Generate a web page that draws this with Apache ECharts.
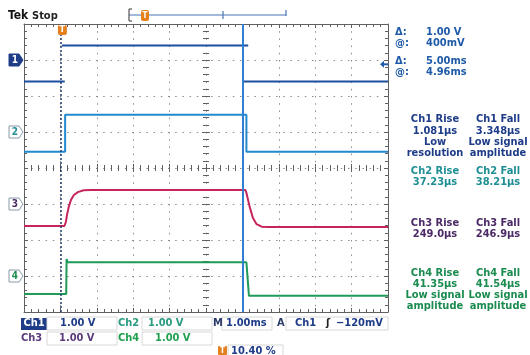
<!DOCTYPE html>
<html><head><meta charset="utf-8">
<script src="https://cdn.jsdelivr.net/npm/echarts@6/dist/echarts.min.js"></script>
<style>html,body{margin:0;padding:0;background:#fff}#c{width:530px;height:355px}</style>
</head><body><div id="c"></div>
<script>
// Acquisition settings
const msPerDiv = 1.00;
const triggerPct = 10.40;
const divisionsX = 10, divisionsY = 8;
const channelNames = ['Ch1', 'Ch2', 'Ch3', 'Ch4'];
const channelOffsets = [3, 1, -1, -3];      // marker position, divisions from centre
const voltsPerDiv = [1.00, 1.00, 1.00, 1.00];
const triggerLevel = -0.12;                 // V on Ch1
const cursorAt = 4.96, cursorDelta = 5.00;  // ms
const cursorVolts = [1.00, 0.400];          // delta, level (V)

// Waveforms as [time ms, volts]; '-' breaks the trace
const ch1Trace = [[-1.04, -0.60], [0.08, -0.60], ['-', '-'], [0, 0.40], [5.12, 0.40], ['-', '-'], [5.00, -0.60], [8.96, -0.60]];
const ch2Trace = [[-1.04, -0.55], [0.09, -0.55], [0.09, 0.48], [5.07, 0.48], [5.07, -0.55], [8.96, -0.55]];
const ch3Trace = [[-1.04, -0.61], [0.07, -0.61], [0.11, -0.50], [0.14, -0.31], [0.19, -0.08], [0.25, 0.11], [0.33, 0.25],
  [0.44, 0.33], [0.60, 0.38], [0.80, 0.39], [5.04, 0.39], [5.07, 0.31], [5.16, -0.08], [5.25, -0.39], [5.35, -0.56],
  [5.49, -0.63], [5.70, -0.64], [8.96, -0.64]];
const ch4Trace = [[-1.04, -0.50], [0.12, -0.50], [0.13, 0.47], [0.16, 0.38], [5.07, 0.38], [5.14, -0.55], [8.96, -0.55]];

// Automatic measurements
const riseTimes = ['1.081µs', '37.23µs', '249.0µs', '41.35µs'];
const fallTimes = ['3.348µs', '38.21µs', '246.9µs', '41.54µs'];
const riseNotes = [['Low', 'resolution'], [], [], ['Low signal', 'amplitude']];
const fallNotes = [['Low signal', 'amplitude'], [], [], ['Low signal', 'amplitude']];

const traceColors = ['#1d4f9e', '#2389cf', '#c8245c', '#1f9a58'];
const textColors = ['#1e3c88', '#1f8f94', '#4b2a66', '#1a8c50'];
const labelColors = ['#1e3c88', '#2a9a80', '#5b3b7b', '#22a050'];
const FONT = '"DejaVu Sans Condensed", "DejaVu Sans", sans-serif';

const G = { left: 24, top: 24, width: 364, height: 288 };
const tStart = -triggerPct / 100 * divisionsX * msPerDiv;
const tEnd = tStart + divisionsX * msPerDiv;

const rulerColor = '#606060';
const dotStyle = { color: '#8c8c8c', width: 1, type: [1.5, 5.7] };

function ruler(extra) {
  return Object.assign({
    type: 'value', min: -divisionsX / 2, max: divisionsX / 2, interval: 1,
    axisLabel: { show: false },
    axisLine: { show: true, onZero: false, lineStyle: { color: rulerColor, width: 1 } },
    axisTick: { show: true, inside: true, length: 4, lineStyle: { color: rulerColor } },
    minorTick: { show: true, splitNumber: 5, length: 3, lineStyle: { color: rulerColor } },
    splitLine: { show: false }
  }, extra);
}
function rulerY(extra) {
  const r = ruler(extra);
  r.min = -divisionsY / 2; r.max = divisionsY / 2;
  return r;
}
const hiddenOnZero = { show: true, onZero: true, onZeroAxisIndex: 0, lineStyle: { color: 'rgba(0,0,0,0)' } };
const outTicks = { show: true, inside: false, length: 4, lineStyle: { color: rulerColor } };

const xAxes = [
  ruler({ position: 'bottom', splitLine: { show: true, lineStyle: dotStyle } }),
  ruler({ position: 'top' }),
  ruler({ position: 'bottom', axisLine: hiddenOnZero }),
  ruler({ position: 'bottom', axisLine: hiddenOnZero, axisTick: outTicks }),
  { type: 'value', min: tStart, max: tEnd, show: false }
];
const yAxes = [
  rulerY({ position: 'left', splitLine: { show: true, lineStyle: dotStyle } }),
  rulerY({ position: 'right' }),
  rulerY({ position: 'left', axisLine: hiddenOnZero }),
  rulerY({ position: 'left', axisLine: hiddenOnZero, axisTick: outTicks })
];
channelOffsets.forEach((off, i) => {
  yAxes.push({ type: 'value', show: false,
    min: (-divisionsY / 2 - off) * voltsPerDiv[i], max: (divisionsY / 2 - off) * voltsPerDiv[i] });
});

const traces = [ch1Trace, ch2Trace, ch3Trace, ch4Trace];
const series = traces.map((d, i) => ({
  type: 'line', name: channelNames[i], xAxisIndex: 4, yAxisIndex: 4 + i,
  data: d, showSymbol: false, connectNulls: false, silent: true,
  lineStyle: { color: traceColors[i], width: 2 }, z: 3
}));
// time cursors
series.push({
  type: 'line', xAxisIndex: 4, yAxisIndex: 4, data: [], silent: true,
  markLine: {
    symbol: 'none', silent: true, label: { show: false }, animation: false,
    data: [
      { xAxis: cursorAt - cursorDelta, lineStyle: { color: '#243a6e', width: 1.5, type: [2, 2] } },
      { xAxis: cursorAt, lineStyle: { color: '#2f80d2', width: 2, type: 'solid' } }
    ]
  }, z: 4
});

const chart = echarts.init(document.getElementById('c'), null, { renderer: 'canvas' });
chart.setOption({
  animation: false,
  backgroundColor: '#ffffff',
  grid: { left: G.left, top: G.top, width: G.width, height: G.height, containLabel: false },
  xAxis: xAxes, yAxis: yAxes, series: series
});

// annotations placed through the axes
const gfx = [];
function txt(s, x, y, color, size, align) {
  gfx.push({ type: 'text', silent: true, z: 10,
    style: { text: s, x: x, y: y, fill: color, font: 'bold ' + size + 'px ' + FONT,
      textAlign: align || 'left', textVerticalAlign: 'middle' } });
}
function rect(x, y, w, h, fill, stroke, r) {
  gfx.push({ type: 'rect', silent: true, z: 9, shape: { x: x, y: y, width: w, height: h, r: r || 0 },
    style: { fill: fill || 'none', stroke: stroke || null, lineWidth: 1 } });
}
function line(x1, y1, x2, y2, color, w) {
  gfx.push({ type: 'line', silent: true, z: 9, shape: { x1: x1, y1: y1, x2: x2, y2: y2 },
    style: { stroke: color, lineWidth: w || 1 } });
}

// channel ground markers
channelOffsets.forEach((off, i) => {
  const y = chart.convertToPixel({ yAxisIndex: 4 + i }, 0);
  const x0 = G.left - 15;
  gfx.push({ type: 'polygon', silent: true, z: 9,
    shape: { points: [[x0, y - 6], [x0 + 10, y - 6], [x0 + 14, y], [x0 + 10, y + 6], [x0, y + 6]] },
    style: i === 0 ? { fill: textColors[0], stroke: textColors[0] } : { fill: '#ffffff', stroke: '#8a9aa8', lineWidth: 1 } });
  txt(String(i + 1), x0 + 6, y, i === 0 ? '#ffffff' : textColors[i], 10, 'center');
});

// trigger position marker
const xT = chart.convertToPixel({ xAxisIndex: 4 }, 0);
rect(xT - 4, G.top + 1, 9, 10, '#e5801f', null, 2);
txt('T', xT + 0.5, G.top + 6, '#ffffff', 9, 'center');

// trigger level arrow
const yTrig = chart.convertToPixel({ yAxisIndex: 4 }, triggerLevel);
const xa = G.left + G.width - 8;
gfx.push({ type: 'polygon', silent: true, z: 9,
  shape: { points: [[xa, yTrig], [xa + 4, yTrig - 3.5], [xa + 4, yTrig + 3.5]] }, style: { fill: '#1f5aa8' } });
line(xa + 3, yTrig, xa + 8, yTrig, '#1f5aa8', 2);

// header
txt('Tek', 8, 16, '#111111', 12, 'left');
txt('Stop', 32, 16, '#222222', 11, 'left');
line(129, 15, 286, 15, '#4a74b4', 1.2);
line(129, 9, 129, 21, '#555555', 1.2);
line(129, 9, 132, 9, '#555555', 1.2);
line(129, 21, 132, 21, '#555555', 1.2);
line(223, 11, 223, 19, '#4a74b4', 1.2);
line(286, 10, 286, 16, '#4a74b4', 1.2);
rect(141, 10, 8, 11, '#e5801f', null, 2);
txt('T', 145, 15.5, '#ffffff', 8, 'center');

// cursor readout
const blue = '#1f5aa8';
txt('Δ:', 395, 32, blue, 11); txt(cursorVolts[0].toFixed(2) + ' V', 426, 32, blue, 11);
txt('@:', 395, 43, blue, 11); txt(Math.round(cursorVolts[1] * 1000) + 'mV', 426, 43, blue, 11);
txt('Δ:', 395, 61, blue, 11); txt(cursorDelta.toFixed(2) + 'ms', 426, 61, blue, 11);
txt('@:', 395, 72, blue, 11); txt(cursorAt.toFixed(2) + 'ms', 426, 72, blue, 11);

// measurement table
const rowTops = [119.5, 171, 222.7, 273];
channelNames.forEach((n, i) => {
  const c = textColors[i];
  const y0 = rowTops[i];
  txt(n + ' Rise', 435, y0, c, 11, 'center');
  txt(n + ' Fall', 498, y0, c, 11, 'center');
  txt(riseTimes[i], 435, y0 + 11.5, c, 11, 'center');
  txt(fallTimes[i], 498, y0 + 11.5, c, 11, 'center');
  riseNotes[i].forEach((s, k) => txt(s, 435, y0 + 22.5 + k * 11, c, 11, 'center'));
  fallNotes[i].forEach((s, k) => txt(s, 498, y0 + 22.5 + k * 11, c, 11, 'center'));
});

// status bar
const r1 = 323.5, r2 = 338.5;
rect(21, 318, 26, 12, textColors[0], null, 0);
txt('Ch1', 34, r1, '#ffffff', 11, 'center');
rect(47, 317, 70, 13, null, '#d8d8d8');
txt(voltsPerDiv[0].toFixed(2) + ' V', 60, r1, labelColors[0], 11);
txt('Ch2', 118, r1, labelColors[1], 11);
rect(142, 317, 70, 13, null, '#d8d8d8');
txt(voltsPerDiv[1].toFixed(2) + ' V', 148, r1, labelColors[1], 11);
txt('M', 213, r1, '#2a3a6a', 11);
rect(222, 317, 50, 13, null, '#d8d8d8');
txt(msPerDiv.toFixed(2) + 'ms', 226, r1, labelColors[0], 11);
txt('A', 277, r1, '#2a3a6a', 11);
rect(286, 317, 102, 13, null, '#d8d8d8');
txt('Ch1', 295, r1, labelColors[0], 11);
txt('ʃ', 326, r1, '#222222', 11);
txt('−' + Math.abs(triggerLevel * 1000).toFixed(0) + 'mV', 336, r1, labelColors[0], 11);
txt('Ch3', 21, r2, labelColors[2], 11);
rect(47, 332, 70, 13, null, '#d8d8d8');
txt(voltsPerDiv[2].toFixed(2) + ' V', 59, r2, labelColors[2], 11);
txt('Ch4', 118, r2, labelColors[3], 11);
rect(142, 332, 70, 13, null, '#d8d8d8');
txt(voltsPerDiv[3].toFixed(2) + ' V', 155, r2, labelColors[3], 11);
rect(218, 346, 9, 9, '#e5801f', null, 1);
txt('T', 222.5, 350.5, '#ffffff', 8, 'center');
rect(228, 345, 55, 12, null, '#d8d8d8');
txt(triggerPct.toFixed(2) + ' %', 231, 351, labelColors[0], 11);

chart.setOption({ graphic: gfx });
</script></body></html>
